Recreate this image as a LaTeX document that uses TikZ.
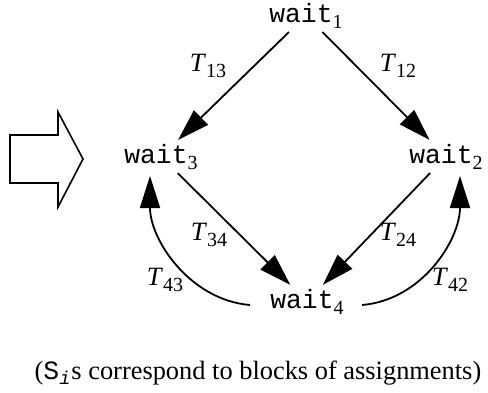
\documentclass[tikz,border=0pt]{standalone}
\usepackage{fontspec}
\setmainfont{Liberation Serif}
\setmonofont{Liberation Mono}
\usetikzlibrary{arrows.meta,calc}
\newcommand{\sbs}[1]{\raisebox{-3pt}{\fontsize{10}{12}\selectfont #1}}
\begin{document}
\begin{tikzpicture}[x=0.5pt,y=-0.5pt,
  every node/.style={font=\fontsize{13.2}{15}\selectfont},
  state/.style={inner sep=0pt,outer sep=2pt,anchor=base},
  lbl/.style={inner sep=0pt},
  conn/.style={line width=0.9pt,-{Triangle[length=16pt,width=10pt]}},
  bigarrow/.style={line width=0.8pt,line join=miter}]
\useasboundingbox (0,0) rectangle (488,392);
% states
\node[state] (w1) at (306,22) {\texttt{wait}\sbs{1}};
\node[state] (w3) at (161,163) {\texttt{wait}\sbs{3}};
\node[state] (w2) at (446,163) {\texttt{wait}\sbs{2}};
\node[state] (w4) at (307,308) {\texttt{wait}\sbs{4}};
% straight transitions
\draw[conn] (w1) -- (w3);
\draw[conn] (w1) -- (w2);
\draw[conn] (w3) -- (w4);
\draw[conn] (w2) -- (w4);
% curved transitions
\draw[conn] ($(w4.base)+(-57,-3)$) .. controls (190,300) and (150,240) .. ($(w3.base)+(-11,13)$);
\draw[conn] ($(w4.base)+(55,-3)$) .. controls (422,300) and (460,240) .. ($(w2.base)+(14,13)$);
% labels
\node[lbl] (t13) at (208,66) {\textit{T}\sbs{13}};
\node[lbl] (t12) at (398,66) {\textit{T}\sbs{12}};
\node[lbl] (t34) at (209,235) {\textit{T}\sbs{34}};
\node[lbl] (t24) at (398,235) {\textit{T}\sbs{24}};
\node[lbl] (t43) at (165,280) {\textit{T}\sbs{43}};
\node[lbl] (t42) at (450,280) {\textit{T}\sbs{42}};
% block arrow
\draw[bigarrow] (10,135) -- (58,135) -- (58,112) -- (83,159) -- (58,207) -- (58,183) -- (10,183) -- cycle;
% caption
\node[anchor=base,inner sep=0pt] (cap) at (258,379) {({\ttfamily S}\textsubscript{\ttfamily\itshape i}s correspond to blocks of assignments)};
\end{tikzpicture}
\end{document}
